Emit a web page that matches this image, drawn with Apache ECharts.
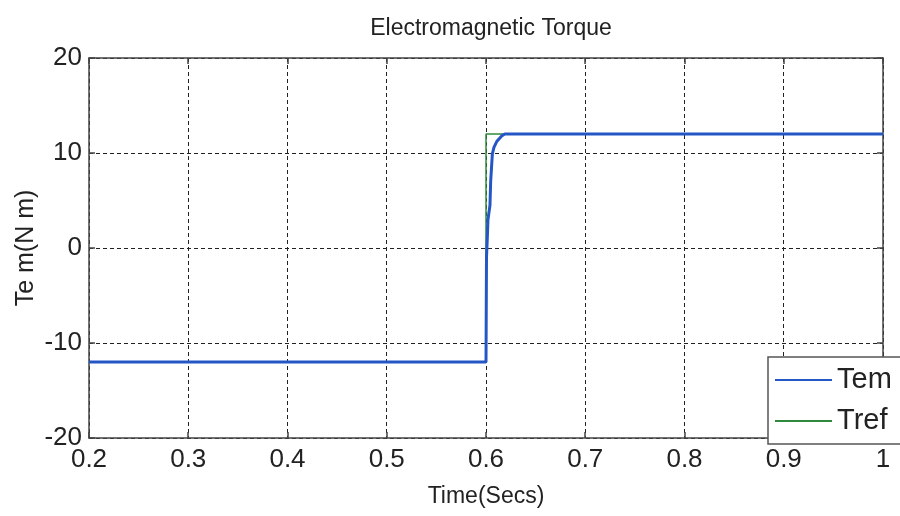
<!DOCTYPE html>
<html>
<head>
<meta charset="utf-8">
<script src="https://cdn.jsdelivr.net/npm/echarts@6/dist/echarts.min.js"></script>
<style>
  html, body { margin: 0; padding: 0; background: #fff; }
  #chart { width: 900px; height: 516px; }
</style>
</head>
<body>
<div id="chart"></div>
<script>
// valores
const xTicks = [0.2, 0.3, 0.4, 0.5, 0.6, 0.7, 0.8, 0.9, 1];
const yTicks = [-20, -10, 0, 10, 20];
const temData = [
    [0.2, -12], [0.6, -12], [0.6005, -1], [0.6013, 1], [0.602, 3],
    [0.604, 4.5], [0.6047, 7], [0.6064, 9.9], [0.608, 10.6],
    [0.6108, 11.2], [0.6158, 11.8], [0.619, 12], [1, 12]
];
const trefData = [[0.2, -12], [0.6, -12], [0.6, 12], [1, 12]];

const chartDom = document.getElementById('chart');
const myChart = echarts.init(chartDom);

const tickFont = { fontFamily: '"Liberation Sans", Arial', fontSize: 26, color: '#222' };
const frameLine = { show: true, onZero: false, lineStyle: { color: '#444', width: 1.5 } };
const innerTick = { show: true, inside: true, length: 6, lineStyle: { color: '#444', width: 1.5 } };
const gridLine = { show: true, lineStyle: { color: '#222', width: 1, type: [4, 3] } };

const option = {
    animation: false,
    backgroundColor: '#fff',
    title: {
        text: 'Electromagnetic Torque',
        left: 486, top: 12, textAlign: 'center',
        textStyle: { fontFamily: '"Liberation Sans", Arial', fontSize: 23, fontWeight: 'normal', color: '#222' }
    },
    legend: {
        data: ['Tem', 'Tref'],
        orient: 'vertical',
        left: 768, top: 357,
        icon: 'path://M0,0 L57,0 L57,2 L0,2 Z',
        itemWidth: 57, itemHeight: 2, itemGap: 5,
        padding: [5, 14, 5, 7],
        backgroundColor: '#fff',
        borderColor: '#555', borderWidth: 1.5,
        textStyle: { fontFamily: '"Liberation Sans", Arial', fontSize: 29, color: '#222', lineHeight: 36 }
    },
    grid: { left: 89, right: 17, top: 58, bottom: 78 },
    xAxis: [{
        type: 'value', min: 0.2, max: 1, interval: 0.1,
        name: 'Time(Secs)', nameLocation: 'middle', nameGap: 47, nameMoveOverlap: false,
        nameTextStyle: { fontFamily: '"Liberation Sans", Arial', fontSize: 23, color: '#222' },
        axisLine: frameLine, axisTick: innerTick,
        axisLabel: Object.assign({ margin: 9 }, tickFont),
        splitLine: gridLine
    }, {
        type: 'value', position: 'top', min: 0.2, max: 1, interval: 0.1,
        axisLine: frameLine, axisTick: innerTick,
        axisLabel: { show: false }, splitLine: { show: false }
    }],
    yAxis: [{
        type: 'value', min: -20, max: 20, interval: 10,
        name: 'Te m(N m)', nameLocation: 'middle', nameGap: 50, nameMoveOverlap: false,
        nameTextStyle: { fontFamily: '"Liberation Sans", Arial', fontSize: 25, color: '#222' },
        axisLine: frameLine, axisTick: innerTick,
        axisLabel: Object.assign({ margin: 7 }, tickFont),
        splitLine: gridLine
    }, {
        type: 'value', position: 'right', min: -20, max: 20, interval: 10,
        axisLine: frameLine, axisTick: innerTick,
        axisLabel: { show: false }, splitLine: { show: false }
    }],
    series: [{
        name: 'Tem', type: 'line', data: temData, symbol: 'none', z: 3,
        lineStyle: { color: '#2457c5', width: 3 }, itemStyle: { color: '#2457c5' }
    }, {
        name: 'Tref', type: 'line', data: trefData, symbol: 'none', z: 2,
        lineStyle: { color: '#2f8a3c', width: 1.5 }, itemStyle: { color: '#2f8a3c' }
    }]
};
myChart.setOption(option);
</script>
</body>
</html>
